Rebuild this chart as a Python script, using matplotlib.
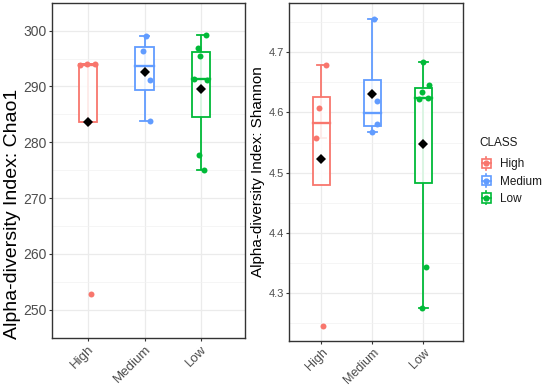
"""Alpha-diversity boxplots (Chao1 and Shannon) by CLASS."""

import matplotlib

matplotlib.use("Agg")
import matplotlib.pyplot as plt
import numpy as np
from matplotlib.legend_handler import HandlerBase
from matplotlib.lines import Line2D
from matplotlib.patches import Rectangle
from matplotlib.transforms import ScaledTranslation

plt.rcParams["font.family"] = ["Liberation Sans", "DejaVu Sans"]

CLASSES = ["High", "Medium", "Low"]
COLORS = ["#F8766D", "#619CFF", "#00BA38"]

chao1_high = [252.8, 283.6, 293.9, 294.0, 294.1]
chao1_medium = [283.8, 291.2, 296.3, 299.1]
chao1_low = [275.0, 277.8, 291.1, 291.3, 295.4, 296.9, 299.2]

shannon_high = [4.246, 4.557, 4.608, 4.679]
shannon_medium = [4.567, 4.580, 4.619, 4.755]
shannon_low = [4.276, 4.343, 4.623, 4.624, 4.634, 4.646, 4.683]

chao1_ticks = [250, 260, 270, 280, 290, 300]
shannon_ticks = [4.3, 4.4, 4.5, 4.6, 4.7]

# horizontal jitter of each point (category units)
chao1_jitter = [
    [0.05, 0.0, -0.14, 0.12, -0.02],
    [0.09, 0.10, -0.03, 0.03],
    [0.05, -0.04, 0.10, -0.12, -0.02, -0.05, 0.09],
]
shannon_jitter = [
    [0.03, -0.11, -0.05, 0.08],
    [-0.01, 0.09, 0.09, 0.04],
    [-0.02, 0.05, -0.09, 0.09, -0.02, 0.11, 0.0],
]

BOX_W = 0.33
CAP_W = 0.16
LW = 1.3


class BoxKey(HandlerBase):
    def create_artists(self, legend, orig_handle, xdescent, ydescent, width, height, fontsize, trans):
        c = orig_handle.get_color()
        cx = width / 2 - xdescent
        cy = height / 2 - ydescent
        bw, bh = width * 0.65, height * 0.95
        box = Rectangle((cx - bw / 2, cy - bh / 2), bw, bh, facecolor="white", edgecolor=c, lw=1.2, transform=trans)
        vline = Line2D([cx, cx], [cy - bh * 0.7, cy + bh * 0.7], color=c, lw=1.2, transform=trans)
        hline = Line2D([cx - bw / 2, cx + bw / 2], [cy, cy], color=c, lw=1.2, transform=trans)
        dot = Line2D([cx], [cy], marker="o", ms=3.5, color=c, lw=0, transform=trans)
        return [vline, box, hline, dot]


def _draw_panel(ax, groups, jitter, ylim, ticks, ylabel, fs):
    for i, (vals, jit, color) in enumerate(zip(groups, jitter, COLORS)):
        x = i + 1
        v = np.asarray(vals, dtype=float)
        q1, med, q3 = np.percentile(v, [25, 50, 75])
        iqr = q3 - q1
        lo = v[v >= q1 - 1.5 * iqr].min()
        hi = v[v <= q3 + 1.5 * iqr].max()
        ax.plot([x, x], [lo, hi], color=color, lw=LW, zorder=2, solid_capstyle="butt")
        for end in (lo, hi):
            if end not in (q1, q3):
                ax.plot([x - CAP_W / 2, x + CAP_W / 2], [end, end], color=color, lw=LW, zorder=2)
        ax.add_patch(Rectangle((x - BOX_W / 2, q1), BOX_W, q3 - q1, facecolor="white", alpha=0.85,
                               edgecolor="none", zorder=3))
        ax.add_patch(Rectangle((x - BOX_W / 2, q1), BOX_W, q3 - q1, facecolor="none",
                               edgecolor=color, lw=LW, zorder=4))
        ax.plot([x - BOX_W / 2, x + BOX_W / 2], [med, med], color=color, lw=LW * 1.3, zorder=4)
        ax.plot(x + np.asarray(jit), v, "o", color=color, ms=4.3, mew=0, zorder=5)
        ax.plot([x], [v.mean()], "D", color="black", ms=5.5, mew=0, zorder=6)

    ax.set_xlim(0.37, 3.77)
    ax.set_ylim(*ylim)
    ax.set_xticks([1, 2, 3])
    ax.set_xticklabels(CLASSES, rotation=45, ha="right", rotation_mode="anchor",
                       fontsize=fs["x"], color="#4D4D4D")
    shift = ScaledTranslation(3 / 72, 0, ax.figure.dpi_scale_trans)
    for lab in ax.get_xticklabels():
        lab.set_transform(lab.get_transform() + shift)
    ax.set_yticks(ticks)
    ax.set_yticklabels([f"{t:g}" for t in ticks], fontsize=fs["y"], color="#4D4D4D")
    step = ticks[1] - ticks[0]
    minor = np.concatenate([[ticks[0] - step / 2], np.asarray(ticks) + step / 2])
    ax.set_yticks(minor, minor=True)
    ax.tick_params(axis="y", which="minor", length=0)
    ax.tick_params(which="major", length=2.5, width=0.8, color="#333333", pad=1.5)
    ax.grid(True, which="major", color="#EBEBEB", lw=0.9, zorder=0)
    ax.grid(True, which="minor", axis="y", color="#F2F2F2", lw=0.5, zorder=0)
    ax.set_axisbelow(True)
    for sp in ax.spines.values():
        sp.set_color("#333333")
        sp.set_linewidth(1.0)
    ax.set_ylabel(ylabel, fontsize=fs["label"])
    ax.yaxis.set_label_coords(fs["lx"], fs["ly"])


fig = plt.figure(figsize=(5.5, 3.85), dpi=100)
ax1 = fig.add_axes([0.0951, 0.1229, 0.3498, 0.8701])
ax2 = fig.add_axes([0.526, 0.1151, 0.3153, 0.8763])

_draw_panel(ax1, [chao1_high, chao1_medium, chao1_low], chao1_jitter, (247.5, 301.45), chao1_ticks,
            "Alpha-diversity Index: Chao1", {"x": 9.5, "y": 10, "label": 14, "lx": -0.163, "ly": 0.37})
_draw_panel(ax2, [shannon_high, shannon_medium, shannon_low], shannon_jitter, (4.2214, 4.781), shannon_ticks,
            "Alpha-diversity Index: Shannon", {"x": 9, "y": 8, "label": 11, "lx": -0.14, "ly": 0.5})

handles = [Line2D([], [], color=c, label=name) for name, c in zip(CLASSES, COLORS)]
leg = fig.legend(handles=handles, title="CLASS", loc="upper left", bbox_to_anchor=(0.871, 0.645),
                 frameon=False, fontsize=8.5, title_fontsize=8.5, handler_map={Line2D: BoxKey()},
                 handlelength=1.2, handleheight=0.9, handletextpad=0.6, labelspacing=0.45,
                 borderaxespad=0, borderpad=0)
leg._legend_box.align = "left"
leg._legend_box.sep = 7
leg.get_title().set_color("#1A1A1A")
for t in leg.get_texts():
    t.set_color("#1A1A1A")

fig.savefig("out.png", dpi=100)
